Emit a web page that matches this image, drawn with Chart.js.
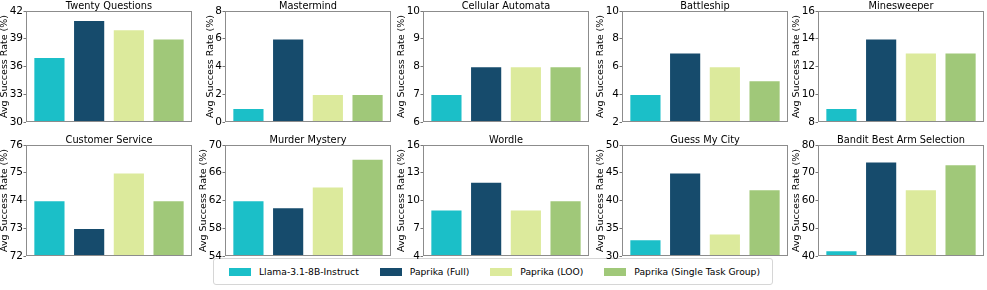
<!DOCTYPE html>
<html>
<head>
<meta charset="utf-8">
<script src="https://cdn.jsdelivr.net/npm/chart.js@4.4.1/dist/chart.umd.min.js"></script>
<style>
  body { margin: 0; background: #fff; width: 987px; height: 290px; position: relative; overflow: hidden; font-family: 'DejaVu Sans', sans-serif; }
  canvas { position: absolute; }
  #legend { position: absolute; left: 213px; top: 258px; width: 560px; height: 27px; box-sizing: border-box;
            border: 1px solid #d6d6d6; border-radius: 3px; display: flex; align-items: center; padding-left: 15px; gap: 21px; }
  .item { display: flex; align-items: center; font-size: 9.2px; color: #000; white-space: nowrap; }
  .sw { width: 22px; height: 8px; margin-right: 8px; }
</style>
</head>
<body>
<div id="legend"></div>
<script>
// data
const tasks = ['Twenty Questions', 'Mastermind', 'Cellular Automata', 'Battleship', 'Minesweeper',
               'Customer Service', 'Murder Mystery', 'Wordle', 'Guess My City', 'Bandit Best Arm Selection'];
const models = ['Llama-3.1-8B-Instruct', 'Paprika (Full)', 'Paprika (LOO)', 'Paprika (Single Task Group)'];
const llama         = [37, 1, 7, 4, 9, 74, 62, 9, 33, 42];
const paprikaFull   = [41, 6, 8, 7, 14, 73, 61, 12, 45, 74];
const paprikaLoo    = [40, 2, 8, 6, 13, 75, 64, 9, 34, 64];
const paprikaSingle = [39, 2, 8, 5, 13, 74, 68, 10, 42, 73];
const yTicks = [
  [30, 33, 36, 39, 42], [0, 2, 4, 6, 8], [6, 7, 8, 9, 10], [2, 4, 6, 8, 10], [8, 10, 12, 14, 16],
  [72, 73, 74, 75, 76], [54, 58, 62, 66, 70], [4, 7, 10, 13, 16], [30, 35, 40, 45, 50], [40, 50, 60, 70, 80]
];
const colors = ['#1bbfc8', '#164b6c', '#dcea9c', '#a0c879'];

// layout of the plot areas on the page
const plotLefts = [26, 225, 423, 622, 818];
const rowTops = [11, 145];
const plotW = 166, plotH = 111;

Chart.defaults.font.family = 'DejaVu Sans';
Chart.defaults.color = '#000';

const frame = {
  id: 'frame',
  afterDatasetsDraw(chart) {
    const { ctx, chartArea: a } = chart;
    ctx.save();
    ctx.strokeStyle = '#8c8c8c';
    ctx.lineWidth = 1;
    ctx.strokeRect(Math.round(a.left) + 0.5, Math.round(a.top) + 0.5, Math.round(a.width) - 1, Math.round(a.height) - 1);
    ctx.restore();
  }
};

function makeChart(canvas, i) {
  const series = [llama, paprikaFull, paprikaLoo, paprikaSingle];
  const ticks = yTicks[i];
  return new Chart(canvas.getContext('2d'), {
    type: 'bar',
    data: {
      datasets: [{
        data: series.map((s, k) => ({ x: k, y: s[i] })),
        backgroundColor: colors,
        borderColor: 'rgba(255,255,255,0.75)',
        borderWidth: 0.8,
        borderSkipped: 'start',
        barPercentage: 1,
        categoryPercentage: 0.8
      }]
    },
    options: {
      responsive: false,
      animation: false,
      devicePixelRatio: 1,
      layout: { padding: { left: 0, right: 2, top: 0, bottom: 8 } },
      plugins: {
        legend: { display: false },
        tooltip: { enabled: false },
        title: {
          display: true, text: tasks[i], fullSize: false, color: '#000',
          font: { size: 9.8, weight: 'normal', lineHeight: '12px' },
          padding: { top: 0, bottom: -1 }
        }
      },
      scales: {
        x: { type: 'linear', display: false, offset: false, min: -0.59, max: 3.59 },
        y: {
          min: ticks[0], max: ticks[ticks.length - 1],
          afterBuildTicks: s => { s.ticks = ticks.map(v => ({ value: v })); },
          afterFit: s => { s.width = Math.round(s.width); },
          border: { display: false },
          grid: { drawOnChartArea: false, drawTicks: true, tickLength: 2.5, color: '#777' },
          ticks: { font: { size: 10.5 }, color: '#000', padding: 0.5 },
          title: {
            display: true, text: 'Avg Success Rate (%)', color: '#000',
            font: { size: 9.5, lineHeight: '9px' }, padding: { top: 0, bottom: 0 }
          }
        }
      }
    },
    plugins: [frame]
  });
}

tasks.forEach((t, i) => {
  const canvas = document.createElement('canvas');
  canvas.width = 240; canvas.height = 150;
  document.body.appendChild(canvas);
  // first pass only measures the space taken by the axis and title
  let chart = makeChart(canvas, i);
  const offL = Math.round(chart.chartArea.left);
  const offT = Math.round(chart.chartArea.top);
  chart.destroy();
  canvas.width = offL + plotW + 2;
  canvas.height = offT + plotH + 8;
  canvas.style.width = canvas.width + 'px';
  canvas.style.height = canvas.height + 'px';
  canvas.style.left = (plotLefts[i % 5] - offL) + 'px';
  canvas.style.top = (rowTops[Math.floor(i / 5)] - offT) + 'px';
  makeChart(canvas, i);
});

const legend = document.getElementById('legend');
models.forEach((m, k) => {
  const item = document.createElement('div');
  item.className = 'item';
  item.innerHTML = `<span class="sw" style="background:${colors[k]}"></span><span>${m}</span>`;
  legend.appendChild(item);
});
</script>
</body>
</html>
